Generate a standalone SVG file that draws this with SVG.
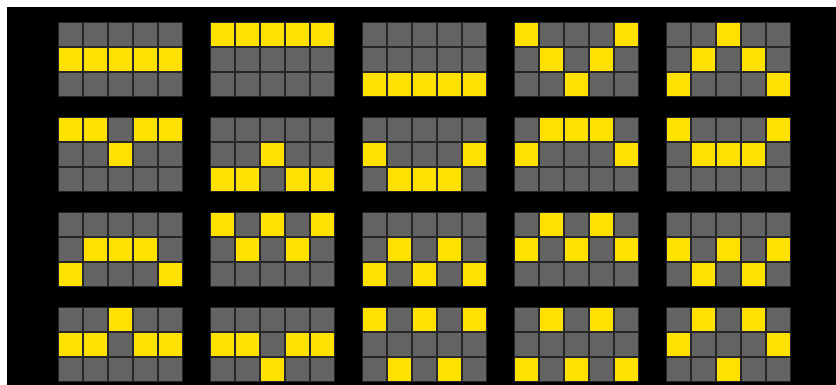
<svg xmlns="http://www.w3.org/2000/svg" xmlns:xlink="http://www.w3.org/1999/xlink" width="836" height="385" viewBox="0 0 836 385">
<style>
.g{fill:#636363}
.y{fill:#ffe100}
.bg{fill:#262626}
</style>
<defs>
<g id="base">
<rect class="bg" x="0" y="0" width="125" height="75"/>
<rect class="g" x="1" y="1" width="23" height="23"/><rect class="g" x="26" y="1" width="23" height="23"/><rect class="g" x="51" y="1" width="23" height="23"/><rect class="g" x="76" y="1" width="23" height="23"/><rect class="g" x="101" y="1" width="23" height="23"/>
<rect class="g" x="1" y="26" width="23" height="23"/><rect class="g" x="26" y="26" width="23" height="23"/><rect class="g" x="51" y="26" width="23" height="23"/><rect class="g" x="76" y="26" width="23" height="23"/><rect class="g" x="101" y="26" width="23" height="23"/>
<rect class="g" x="1" y="51" width="23" height="23"/><rect class="g" x="26" y="51" width="23" height="23"/><rect class="g" x="51" y="51" width="23" height="23"/><rect class="g" x="76" y="51" width="23" height="23"/><rect class="g" x="101" y="51" width="23" height="23"/>
</g>
<rect id="c" class="y" x="1" y="1" width="23" height="23"/>
</defs>
<rect x="0" y="0" width="836" height="385" fill="#ffffff"/>
<rect x="7" y="7" width="829" height="378" fill="#000000"/>

<!-- Row 1 -->
<g id="p1" transform="translate(58,22)"><use href="#base"/><use href="#c" x="0" y="25"/><use href="#c" x="25" y="25"/><use href="#c" x="50" y="25"/><use href="#c" x="75" y="25"/><use href="#c" x="100" y="25"/></g>
<g id="p2" transform="translate(210,22)"><use href="#base"/><use href="#c" x="0" y="0"/><use href="#c" x="25" y="0"/><use href="#c" x="50" y="0"/><use href="#c" x="75" y="0"/><use href="#c" x="100" y="0"/></g>
<g id="p3" transform="translate(362,22)"><use href="#base"/><use href="#c" x="0" y="50"/><use href="#c" x="25" y="50"/><use href="#c" x="50" y="50"/><use href="#c" x="75" y="50"/><use href="#c" x="100" y="50"/></g>
<g id="p4" transform="translate(514,22)"><use href="#base"/><use href="#c" x="0" y="0"/><use href="#c" x="100" y="0"/><use href="#c" x="25" y="25"/><use href="#c" x="75" y="25"/><use href="#c" x="50" y="50"/></g>
<g id="p5" transform="translate(666,22)"><use href="#base"/><use href="#c" x="50" y="0"/><use href="#c" x="25" y="25"/><use href="#c" x="75" y="25"/><use href="#c" x="0" y="50"/><use href="#c" x="100" y="50"/></g>

<!-- Row 2 -->
<g id="p6" transform="translate(58,117)"><use href="#base"/><use href="#c" x="0" y="0"/><use href="#c" x="25" y="0"/><use href="#c" x="75" y="0"/><use href="#c" x="100" y="0"/><use href="#c" x="50" y="25"/></g>
<g id="p7" transform="translate(210,117)"><use href="#base"/><use href="#c" x="50" y="25"/><use href="#c" x="0" y="50"/><use href="#c" x="25" y="50"/><use href="#c" x="75" y="50"/><use href="#c" x="100" y="50"/></g>
<g id="p8" transform="translate(362,117)"><use href="#base"/><use href="#c" x="0" y="25"/><use href="#c" x="100" y="25"/><use href="#c" x="25" y="50"/><use href="#c" x="50" y="50"/><use href="#c" x="75" y="50"/></g>
<g id="p9" transform="translate(514,117)"><use href="#base"/><use href="#c" x="25" y="0"/><use href="#c" x="50" y="0"/><use href="#c" x="75" y="0"/><use href="#c" x="0" y="25"/><use href="#c" x="100" y="25"/></g>
<g id="p10" transform="translate(666,117)"><use href="#base"/><use href="#c" x="0" y="0"/><use href="#c" x="100" y="0"/><use href="#c" x="25" y="25"/><use href="#c" x="50" y="25"/><use href="#c" x="75" y="25"/></g>

<!-- Row 3 -->
<g id="p11" transform="translate(58,212)"><use href="#base"/><use href="#c" x="25" y="25"/><use href="#c" x="50" y="25"/><use href="#c" x="75" y="25"/><use href="#c" x="0" y="50"/><use href="#c" x="100" y="50"/></g>
<g id="p12" transform="translate(210,212)"><use href="#base"/><use href="#c" x="0" y="0"/><use href="#c" x="50" y="0"/><use href="#c" x="100" y="0"/><use href="#c" x="25" y="25"/><use href="#c" x="75" y="25"/></g>
<g id="p13" transform="translate(362,212)"><use href="#base"/><use href="#c" x="25" y="25"/><use href="#c" x="75" y="25"/><use href="#c" x="0" y="50"/><use href="#c" x="50" y="50"/><use href="#c" x="100" y="50"/></g>
<g id="p14" transform="translate(514,212)"><use href="#base"/><use href="#c" x="25" y="0"/><use href="#c" x="75" y="0"/><use href="#c" x="0" y="25"/><use href="#c" x="50" y="25"/><use href="#c" x="100" y="25"/></g>
<g id="p15" transform="translate(666,212)"><use href="#base"/><use href="#c" x="0" y="25"/><use href="#c" x="50" y="25"/><use href="#c" x="100" y="25"/><use href="#c" x="25" y="50"/><use href="#c" x="75" y="50"/></g>

<!-- Row 4 -->
<g id="p16" transform="translate(58,307)"><use href="#base"/><use href="#c" x="50" y="0"/><use href="#c" x="0" y="25"/><use href="#c" x="25" y="25"/><use href="#c" x="75" y="25"/><use href="#c" x="100" y="25"/></g>
<g id="p17" transform="translate(210,307)"><use href="#base"/><use href="#c" x="0" y="25"/><use href="#c" x="25" y="25"/><use href="#c" x="75" y="25"/><use href="#c" x="100" y="25"/><use href="#c" x="50" y="50"/></g>
<g id="p18" transform="translate(362,307)"><use href="#base"/><use href="#c" x="0" y="0"/><use href="#c" x="50" y="0"/><use href="#c" x="100" y="0"/><use href="#c" x="25" y="50"/><use href="#c" x="75" y="50"/></g>
<g id="p19" transform="translate(514,307)"><use href="#base"/><use href="#c" x="25" y="0"/><use href="#c" x="75" y="0"/><use href="#c" x="0" y="50"/><use href="#c" x="50" y="50"/><use href="#c" x="100" y="50"/></g>
<g id="p20" transform="translate(666,307)"><use href="#base"/><use href="#c" x="25" y="0"/><use href="#c" x="75" y="0"/><use href="#c" x="0" y="25"/><use href="#c" x="100" y="25"/><use href="#c" x="50" y="50"/></g>
</svg>
